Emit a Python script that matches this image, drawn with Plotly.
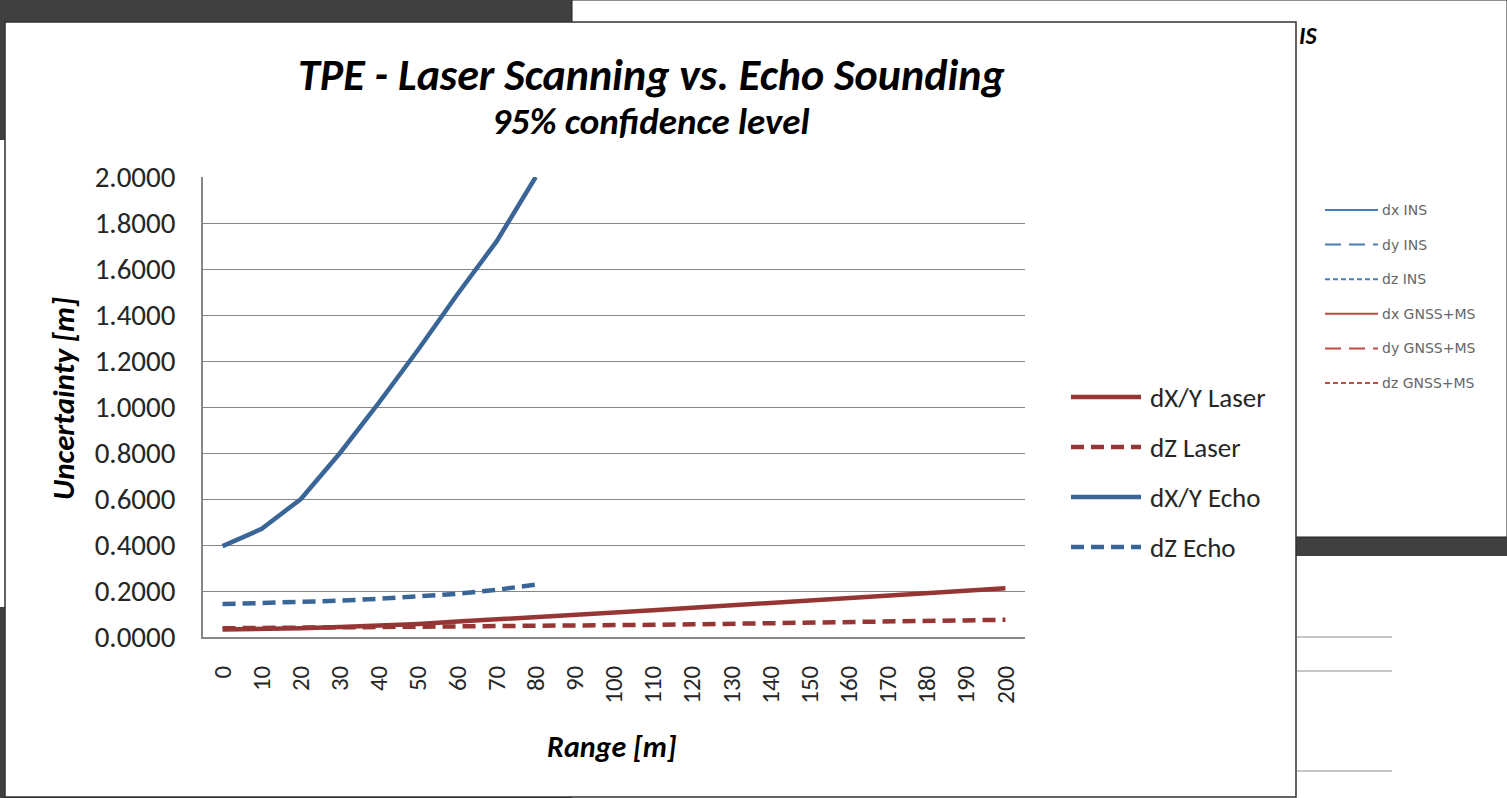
import plotly.graph_objects as go

# ---- data ----
ranges = [str(v) for v in range(0, 201, 10)]
laser_xy = [0.033, 0.034, 0.038, 0.043, 0.049, 0.057, 0.067, 0.076, 0.085, 0.096, 0.106,
            0.116, 0.127, 0.138, 0.149, 0.158, 0.169, 0.181, 0.193, 0.205, 0.212]
laser_z = [0.038, 0.039, 0.040, 0.041, 0.042, 0.044, 0.045, 0.046, 0.048, 0.050, 0.051,
           0.053, 0.055, 0.057, 0.059, 0.061, 0.063, 0.066, 0.069, 0.072, 0.075]
echo_xy = [0.395, 0.47, 0.60, 0.80, 1.02, 1.25, 1.49, 1.72, 2.00]
echo_z = [0.143, 0.147, 0.151, 0.158, 0.166, 0.176, 0.188, 0.205, 0.228]
series_names = ["dX/Y Laser", "dZ Laser", "dX/Y Echo", "dZ Echo"]
bg_legend = ["dx INS", "dy INS", "dz INS", "dx GNSS+MS", "dy GNSS+MS", "dz GNSS+MS"]

RED = "#963634"
BLUE = "#3A6597"
FONT = "Carlito, Calibri, Lato, sans-serif"
W, H = 1507, 798

def px(x):
    return x / W

def py(y):
    return 1 - y / H

fig = go.Figure()
DASH = "13px,7px"
styles = [(RED, "solid"), (RED, DASH), (BLUE, "solid"), (BLUE, DASH)]
datas = [laser_xy, laser_z, echo_xy, echo_z]
for name, d, (c, dash) in zip(series_names, datas, styles):
    fig.add_trace(go.Scatter(x=ranges[:len(d)], y=d, mode="lines", name=name,
                             line=dict(color=c, width=4.5, dash=dash), showlegend=False))

shapes = []
# background windows
shapes.append(dict(type="rect", xref="paper", yref="paper", x0=px(572), x1=1, y0=py(537), y1=1,
                   fillcolor="white", line=dict(color="#202020", width=1), layer="below"))
shapes.append(dict(type="rect", xref="paper", yref="paper", x0=px(572), x1=1, y0=0, y1=py(556),
                   fillcolor="white", line=dict(width=0), layer="below"))
shapes.append(dict(type="rect", xref="paper", yref="paper", x0=0, x1=px(5), y0=py(607), y1=py(140),
                   fillcolor="white", line=dict(width=0), layer="below"))
# main chart window
shapes.append(dict(type="rect", xref="paper", yref="paper", x0=px(5), x1=px(1296), y0=py(797), y1=py(22),
                   fillcolor="white", line=dict(color="#303030", width=1.5), layer="below"))
# gridlines of the chart window behind
for gy in [637, 671, 771]:
    shapes.append(dict(type="line", xref="paper", yref="paper", x0=px(1297), x1=px(1392),
                       y0=py(gy), y1=py(gy), line=dict(color="#8c8c8c", width=1.2), layer="below"))

annotations = []
# legend of the chart window behind
bg_colors = ["#4a7ebb", "#4a7ebb", "#4a7ebb", "#be4b48", "#be4b48", "#be4b48"]
bg_dashes = ["solid", "16px,8px", "5px,3px", "solid", "16px,8px", "5px,3px"]
for i, (t, c, d) in enumerate(zip(bg_legend, bg_colors, bg_dashes)):
    yy = 210 + i * 34.6
    shapes.append(dict(type="line", xref="paper", yref="paper", x0=px(1325), x1=px(1378),
                       y0=py(yy), y1=py(yy), line=dict(color=c, width=2, dash=d), layer="below"))
    annotations.append(dict(text=t, xref="paper", yref="paper", x=px(1380), y=py(yy),
                            xanchor="left", yanchor="middle", showarrow=False,
                            font=dict(family="DejaVu Sans, sans-serif", size=14, color="#666666")))
annotations.append(dict(text="<b><i>IS</i></b>", xref="paper", yref="paper", x=px(1297), y=py(35),
                        xanchor="left", yanchor="middle", showarrow=False,
                        font=dict(family=FONT, size=24, color="black")))

# main legend (custom)
for i, (t, (c, dash)) in enumerate(zip(series_names, styles)):
    yy = 397 + i * 50
    shapes.append(dict(type="line", xref="paper", yref="paper", x0=px(1071), x1=px(1141),
                       y0=py(yy), y1=py(yy), line=dict(color=c, width=4.5, dash=dash)))
    annotations.append(dict(text=t, xref="paper", yref="paper", x=px(1148), y=py(yy),
                            xanchor="left", yanchor="middle", showarrow=False,
                            font=dict(family=FONT, size=27, color="#262626")))

# titles
annotations.append(dict(text="<b><i>TPE - Laser Scanning vs. Echo Sounding</i></b>", xref="paper", yref="paper",
                        x=px(651), y=py(75), xanchor="center", yanchor="middle", showarrow=False,
                        font=dict(family=FONT, size=44, color="black")))
annotations.append(dict(text="<b><i>95% confidence level</i></b>", xref="paper", yref="paper",
                        x=px(651), y=py(122), xanchor="center", yanchor="middle", showarrow=False,
                        font=dict(family=FONT, size=37, color="black")))
annotations.append(dict(text="<b><i>Uncertainty [m]</i></b>", xref="paper", yref="paper",
                        x=px(63), y=py(399), xanchor="center", yanchor="middle", showarrow=False,
                        textangle=-90, font=dict(family=FONT, size=31, color="black")))
annotations.append(dict(text="<b><i>Range [m]</i></b>", xref="paper", yref="paper",
                        x=px(612), y=py(746), xanchor="center", yanchor="middle", showarrow=False,
                        font=dict(family=FONT, size=30, color="black")))

fig.update_layout(
    width=W, height=H,
    margin=dict(l=0, r=0, t=0, b=0, pad=0, autoexpand=False),
    paper_bgcolor="#404040",
    plot_bgcolor="white",
    showlegend=False,
    shapes=shapes,
    annotations=annotations,
    xaxis=dict(domain=[px(203), px(1025)], type="category", range=[-0.5, 20.5],
               tickangle=-90, tickfont=dict(family=FONT, size=25, color="#262626"),
               showline=True, linecolor="#868686", linewidth=1.5, showgrid=False,
               ticks="", ticklen=0, zeroline=False, automargin=False, ticklabelstandoff=17),
    yaxis=dict(domain=[py(637), py(177)], range=[0, 2], dtick=0.2, tickformat=".4f",
               tickfont=dict(family=FONT, size=29, color="#262626"),
               showline=True, linecolor="#868686", linewidth=1.5, showgrid=True,
               gridcolor="#868686", gridwidth=1.2, zeroline=False, ticks="", ticklen=0,
               automargin=False, ticklabelstandoff=20),
)

fig.write_html("out.html")
